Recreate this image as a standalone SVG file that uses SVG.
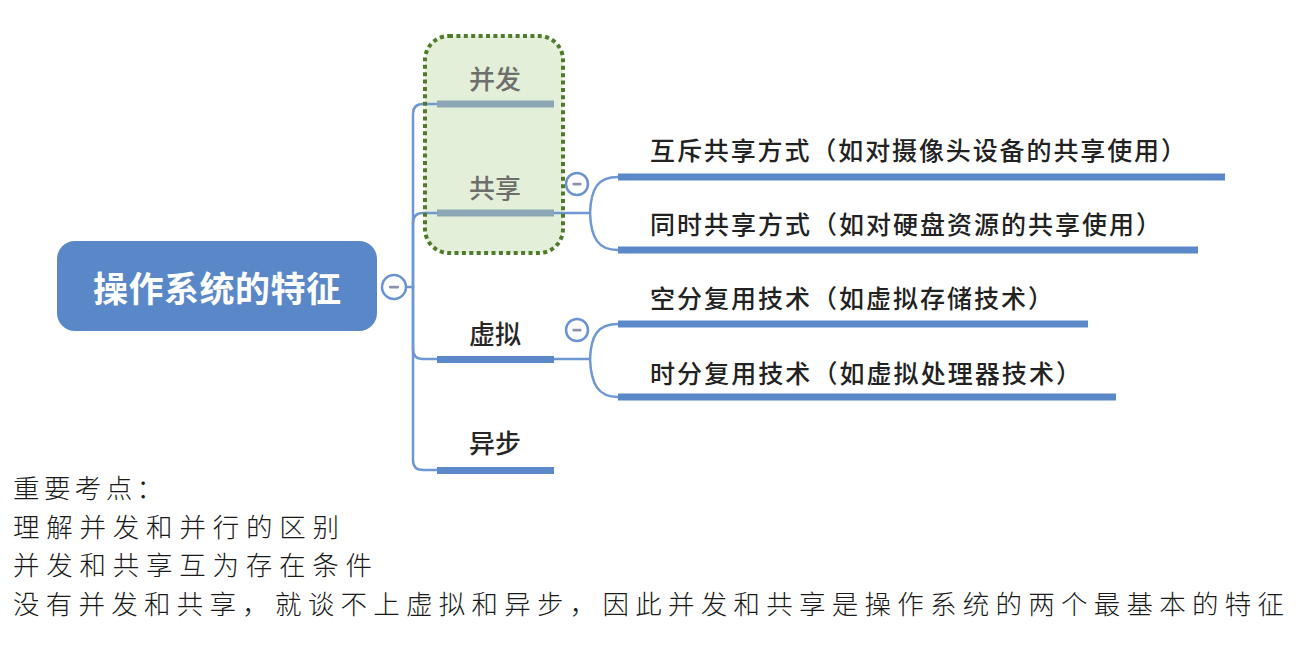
<svg xmlns="http://www.w3.org/2000/svg" width="1309" height="648" viewBox="0 0 1309 648">
  <style>
    .cjk { font-family: "Noto Sans CJK SC", "Noto Sans", sans-serif; }
    .root-text { font-size: 35px; font-weight: 700; fill: #ffffff; }
    .lbl { font-size: 26px; font-weight: 500; fill: #262626; }
    .lbl-muted { font-size: 26px; font-weight: 500; fill: #6e6f6c; }
    .sub { font-size: 25px; font-weight: 500; fill: #222222; }
    .note { font-size: 26.5px; font-weight: 300; fill: #1a1a1a; }
    .bar { fill: #5b88c8; }
    .bar-muted { fill: #8ba7b6; }
    .conn { fill: none; stroke: #6e97d3; stroke-width: 2.5; stroke-linecap: round; }
    .toggle { fill: #ffffff; stroke: #6c93d1; stroke-width: 2.5; }
    .minus { fill: #8d93ad; }
  </style>

  <rect width="1309" height="648" fill="#ffffff"/>

  <!-- highlight box background -->
  <rect id="highlight-fill" x="425" y="36" width="138" height="217" rx="24" fill="#e3efd9"/>

  <!-- connectors -->
  <g id="connectors">
    <path class="conn" d="M407,287 H413"/>
    <path class="conn" d="M413,287 V114 Q413,104 423,104 H437"/>
    <path class="conn" d="M413,287 V223 Q413,213 423,213 H437"/>
    <path class="conn" d="M413,287 V349 Q413,359 423,359 H437"/>
    <path class="conn" d="M413,287 V460 Q413,470 423,470 H437"/>
    <path class="conn" d="M553,213 H590"/>
    <path class="conn" d="M590,213 C591,188 598,177 618,177"/>
    <path class="conn" d="M590,213 C591,238 598,250 618,250"/>
    <path class="conn" d="M553,359 H590"/>
    <path class="conn" d="M590,359 C591,335 598,324 618,324"/>
    <path class="conn" d="M590,359 C591,384 598,397 618,397"/>
  </g>

  <!-- root -->
  <g id="root">
    <rect x="57" y="241" width="320" height="90" rx="18" fill="#5a87c7"/>
    <text class="cjk root-text" x="217" y="302" text-anchor="middle" textLength="248" lengthAdjust="spacing">操作系统的特征</text>
    <circle class="toggle" cx="394" cy="287" r="12"/>
    <rect class="minus" x="389" y="285.8" width="10" height="2.6" rx="1"/>
  </g>

  <g id="node-bingfa">
    <rect class="bar-muted" x="437" y="100.5" width="117" height="7"/>
    <text class="cjk lbl-muted" x="495" y="89" text-anchor="middle">并发</text>
  </g>

  <g id="node-gongxiang">
    <rect class="bar-muted" x="437" y="209.5" width="117" height="7"/>
    <text class="cjk lbl-muted" x="495" y="197.5" text-anchor="middle">共享</text>
    <circle class="toggle" cx="577" cy="184" r="11"/>
    <rect class="minus" x="572.5" y="182.8" width="9" height="2.6" rx="1"/>
  </g>

  <g id="node-xuni">
    <rect class="bar" x="437" y="356" width="117" height="7"/>
    <text class="cjk lbl" x="495" y="344" text-anchor="middle">虚拟</text>
    <circle class="toggle" cx="577" cy="330" r="11"/>
    <rect class="minus" x="572.5" y="328.8" width="9" height="2.6" rx="1"/>
  </g>

  <g id="node-yibu">
    <rect class="bar" x="437" y="467" width="117" height="7"/>
    <text class="cjk lbl" x="495" y="453" text-anchor="middle">异步</text>
  </g>

  <g id="node-huchi">
    <rect class="bar" x="618" y="173.5" width="607" height="7"/>
    <text class="cjk sub" x="650" y="160" textLength="536" lengthAdjust="spacing">互斥共享方式（如对摄像头设备的共享使用）</text>
  </g>

  <g id="node-tongshi">
    <rect class="bar" x="618" y="246.5" width="580" height="7"/>
    <text class="cjk sub" x="650" y="234" textLength="511" lengthAdjust="spacing">同时共享方式（如对硬盘资源的共享使用）</text>
  </g>

  <g id="node-kongfen">
    <rect class="bar" x="618" y="320.5" width="470" height="7"/>
    <text class="cjk sub" x="650" y="308" textLength="403" lengthAdjust="spacing">空分复用技术（如虚拟存储技术）</text>
  </g>

  <g id="node-shifen">
    <rect class="bar" x="618" y="393.5" width="498" height="7"/>
    <text class="cjk sub" x="650" y="383" textLength="431" lengthAdjust="spacing">时分复用技术（如虚拟处理器技术）</text>
  </g>

  <!-- highlight box border on top -->
  <rect id="highlight-border" x="425" y="36" width="138" height="217" rx="24" fill="none" stroke="#4f7c2b" stroke-width="4" stroke-dasharray="4 3.4"/>

  <!-- notes -->
  <g id="notes">
    <text class="cjk note" x="13" y="498" textLength="150" lengthAdjust="spacing">重要考点：</text>
    <text class="cjk note" x="13" y="536.5" textLength="326" lengthAdjust="spacing">理解并发和并行的区别</text>
    <text class="cjk note" x="13" y="575" textLength="359" lengthAdjust="spacing">并发和共享互为存在条件</text>
    <text class="cjk note" x="13" y="613.5" textLength="1271" lengthAdjust="spacing">没有并发和共享，就谈不上虚拟和异步，因此并发和共享是操作系统的两个最基本的特征</text>
  </g>
</svg>
